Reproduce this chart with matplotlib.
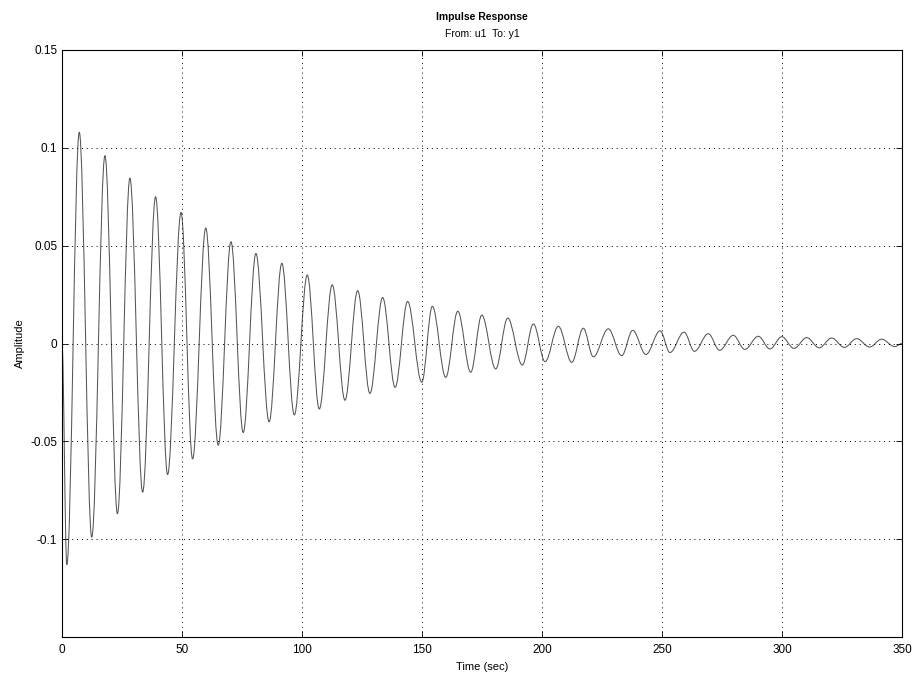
import numpy as np
import matplotlib.pyplot as plt
from matplotlib.path import Path
from matplotlib.patches import PathPatch

# extrema (time in sec, amplitude)
peak_t = [7.2, 17.9, 28.3, 39.0, 49.6, 59.9, 70.4, 80.8, 91.6, 102.2, 112.6, 123.2,
          133.6, 144.0, 154.3, 164.9, 174.9, 185.7, 196.4, 206.8, 217.2, 227.6, 237.8,
          249.2, 259.2, 269.3, 279.7, 290.1, 299.9, 310.3, 320.7, 331.1, 341.5]
peak_v = [0.108, 0.096, 0.0845, 0.075, 0.067, 0.059, 0.052, 0.046, 0.041, 0.035, 0.030, 0.027,
          0.0235, 0.0215, 0.019, 0.0165, 0.0145, 0.013, 0.010, 0.0088, 0.0078, 0.0075, 0.0067,
          0.0065, 0.0058, 0.005, 0.0042, 0.0037, 0.0035, 0.003, 0.0028, 0.0025, 0.0022]
trough_t = [2.0, 12.4, 23.1, 33.6, 44.0, 54.4, 65.1, 75.5, 86.3, 96.8, 107.2, 117.9, 128.3,
            138.8, 149.9, 159.9, 170.3, 180.7, 191.8, 201.3, 212.4, 221.4, 233.2, 243.3,
            253.3, 263.5, 274.0, 284.5, 295.0, 305.0, 315.5, 326.0, 336.5, 347.0]
trough_v = [-0.113, -0.099, -0.087, -0.076, -0.067, -0.059, -0.052, -0.0455, -0.040, -0.0365,
            -0.0335, -0.029, -0.0255, -0.0224, -0.0198, -0.0173, -0.0147, -0.013, -0.011,
            -0.0093, -0.0096, -0.0068, -0.0062, -0.0056, -0.0046, -0.004, -0.0035, -0.003,
            -0.0028, -0.0025, -0.0022, -0.002, -0.0018, -0.0016]
start_pt = (0.0, 0.0)
end_pt = (350.0, 0.0)

xticks = [0, 50, 100, 150, 200, 250, 300, 350]
yticks = [-0.15, -0.1, -0.05, 0, 0.05, 0.1, 0.15]
ytick_labels = ['', '-0.1', '-0.05', '0', '0.05', '0.1', '0.15']

plt.rcParams['font.family'] = ['Liberation Sans', 'DejaVu Sans']

pts = sorted(list(zip(peak_t, peak_v)) + list(zip(trough_t, trough_v)))
pts = [start_pt] + pts + [end_pt]

# smooth curve between extrema: bezier segments with flat tangents
verts = [pts[0]]
codes = [Path.MOVETO]
for (t0, v0), (t1, v1) in zip(pts[:-1], pts[1:]):
    dt = t1 - t0
    verts += [(t0 + 0.36 * dt, v0), (t1 - 0.36 * dt, v1), (t1, v1)]
    codes += [Path.CURVE4] * 3

fig = plt.figure(figsize=(9.16, 6.74), dpi=100)
ax = fig.add_axes([62 / 916, 1 - 637 / 674, 840 / 916, 587 / 674])

ax.add_patch(PathPatch(Path(verts, codes), fill=False, edgecolor='#555555', lw=0.75))

ax.set_xlim(0, 350)
ax.set_ylim(-0.15, 0.15)
ax.set_xticks(xticks)
ax.set_yticks(yticks)
ax.set_yticklabels(ytick_labels)
ax.tick_params(direction='in', top=True, right=True, labelsize=8.5, length=4, width=0.6)
ax.tick_params(axis='x', pad=5)
ax.grid(True, color='black', linestyle=(0, (1, 4)), lw=0.7)
for s in ax.spines.values():
    s.set_linewidth(0.8)

ax.set_xlabel('Time (sec)', fontsize=8)
ax.set_ylabel('Amplitude', fontsize=8)
fig.text(482 / 916, 1 - 17 / 674, 'Impulse Response', ha='center', va='center',
         fontsize=7.5, fontweight='bold')
fig.text(482 / 916, 1 - 34 / 674, 'From: u1  To: y1', ha='center', va='center', fontsize=7.5)

fig.savefig('out.png', dpi=100)
